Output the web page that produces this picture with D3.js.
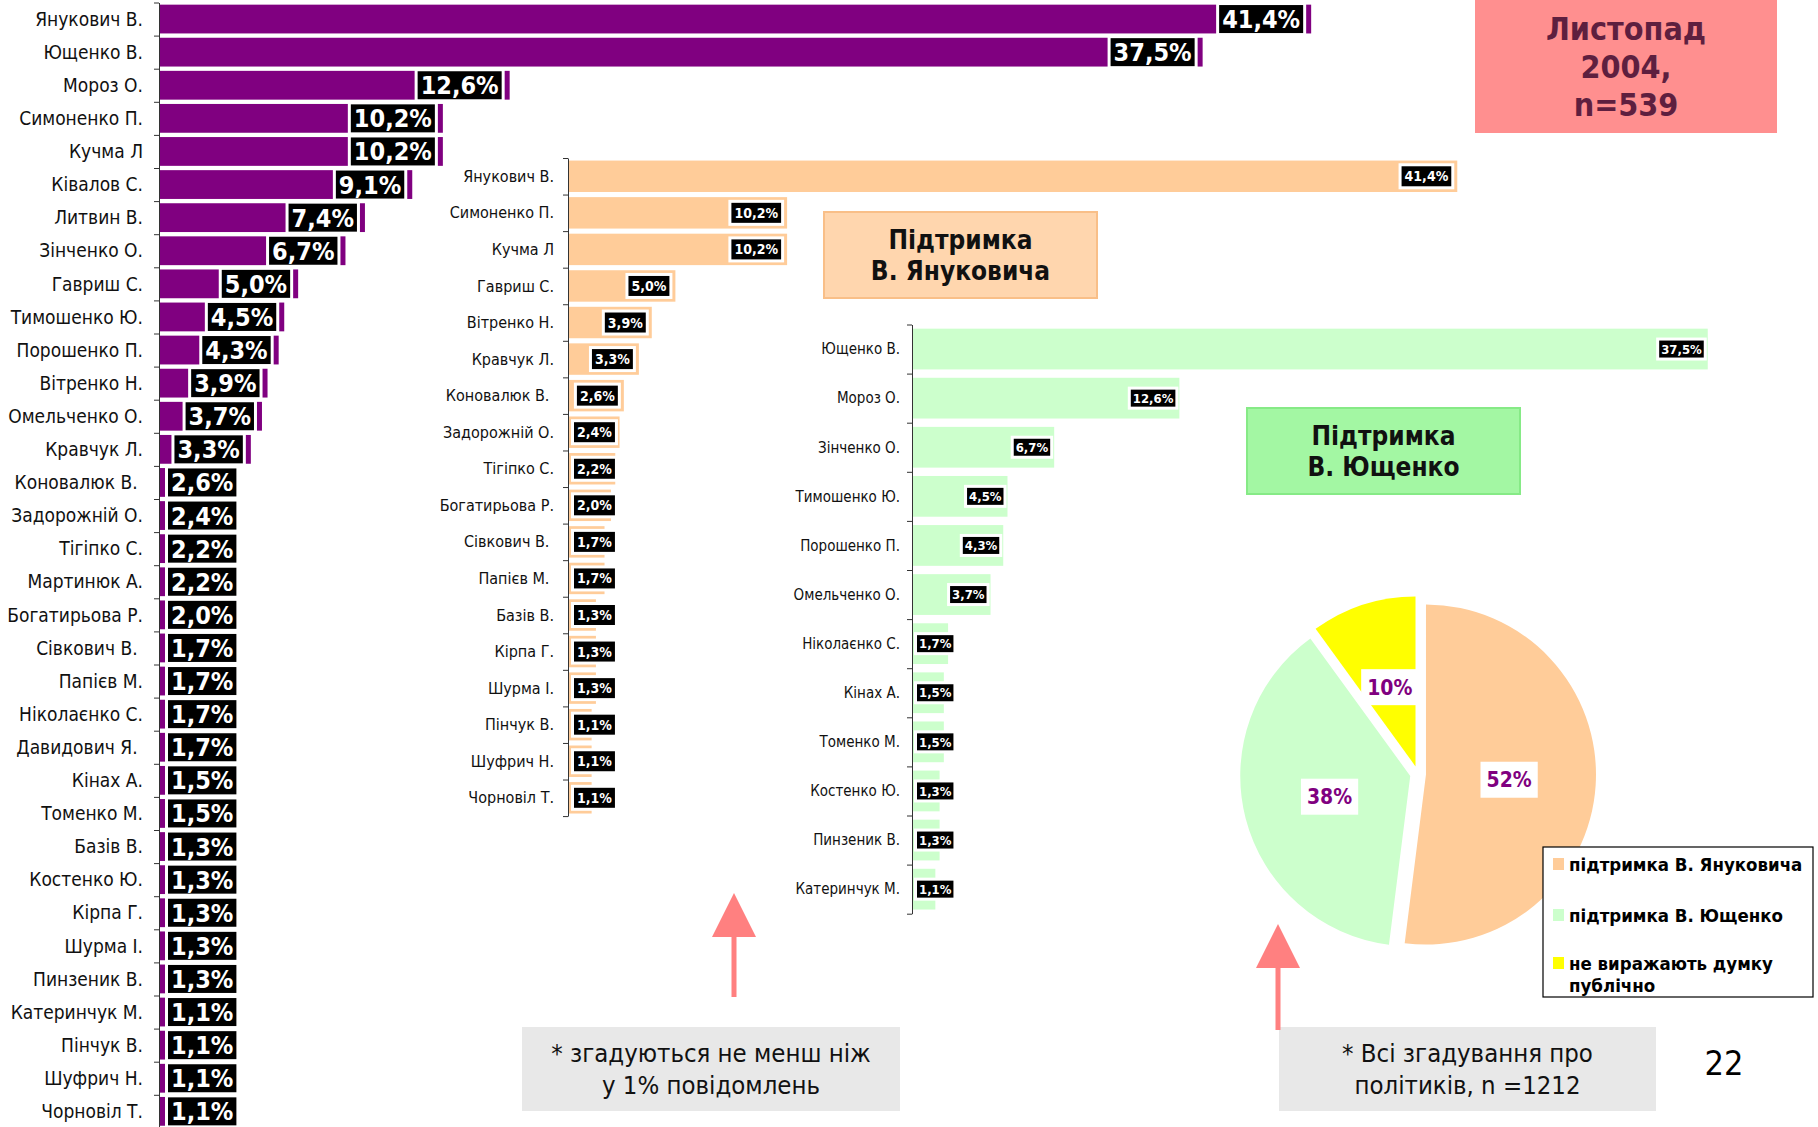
<!DOCTYPE html>
<html>
<head>
<meta charset="utf-8">
<script src="https://cdn.jsdelivr.net/npm/d3@7"></script>
<style>
  body { margin: 0; background: #fff; }
  svg { display: block; font-family: "DejaVu Sans Condensed", "DejaVu Sans", sans-serif; }
</style>
</head>
<body>
<script>
// all mentions of politicians (n=1212)
const allNames = ["Янукович В.", "Ющенко В.", "Мороз О.", "Симоненко П.", "Кучма Л", "Ківалов С.", "Литвин В.",
  "Зінченко О.", "Гавриш С.", "Тимошенко Ю.", "Порошенко П.", "Вітренко Н.", "Омельченко О.", "Кравчук Л.",
  "Коновалюк В. ", "Задорожній О.", "Тігіпко С.", "Мартинюк А.", "Богатирьова Р.", "Сівкович В. ", "Папієв М.",
  "Ніколаєнко С.", "Давидович Я. ", "Кінах А.", "Томенко М.", "Базів В.", "Костенко Ю.", "Кірпа Г.", "Шурма І.",
  "Пинзеник В.", "Катеринчук М.", "Пінчук В.", "Шуфрич Н.", "Чорновіл Т."]
const allValues = [41.4, 37.5, 12.6, 10.2, 10.2, 9.1, 7.4, 6.7, 5.0, 4.5, 4.3, 3.9, 3.7, 3.3, 2.6, 2.4, 2.2, 2.2,
  2.0, 1.7, 1.7, 1.7, 1.7, 1.5, 1.5, 1.3, 1.3, 1.3, 1.3, 1.3, 1.1, 1.1, 1.1, 1.1]

// support of Yanukovych
const yanNames = ["Янукович В.", "Симоненко П.", "Кучма Л", "Гавриш С.", "Вітренко Н.", "Кравчук Л.",
  "Коновалюк В. ", "Задорожній О.", "Тігіпко С.", "Богатирьова Р.", "Сівкович В. ", "Папієв М. ", "Базів В.",
  "Кірпа Г.", "Шурма І.", "Пінчук В.", "Шуфрич Н.", "Чорновіл Т."]
const yanValues = [41.4, 10.2, 10.2, 5.0, 3.9, 3.3, 2.6, 2.4, 2.2, 2.0, 1.7, 1.7, 1.3, 1.3, 1.3, 1.1, 1.1, 1.1]

// support of Yushchenko
const yushNames = ["Ющенко В.", "Мороз О.", "Зінченко О.", "Тимошенко Ю.", "Порошенко П.", "Омельченко О.",
  "Ніколаєнко С.", "Кінах А.", "Томенко М.", "Костенко Ю.", "Пинзеник В.", "Катеринчук М."]
const yushValues = [37.5, 12.6, 6.7, 4.5, 4.3, 3.7, 1.7, 1.5, 1.5, 1.3, 1.3, 1.1]

// pie
const pieLabels = [["підтримка В. Януковича"], ["підтримка В. Ющенко"], ["не виражають думку", "публічно"]]
const pieValues = [52, 38, 10]
const pieColors = ["#ffcc99", "#ccffcc", "#ffff00"]

const width = 1818, height = 1127

const svg = d3.select("body").append("svg")
  .attr("width", width)
  .attr("height", height)

const locale = d3.formatLocale({ decimal: ",", thousands: " ", grouping: [3], currency: ["", ""] })
const fmt = locale.format(".1f")

function barChart(o) {
  const g = svg.append("g")
  const n = o.names.length

  const x = d3.scaleLinear()
    .domain([0, 50])
    .range([o.left, o.left + 50 * o.unit])

  const y = d3.scaleBand()
    .domain(d3.range(n))
    .range([o.top, o.top + n * o.step])
    .paddingInner(o.pad)
    .paddingOuter(o.pad / 2)

  // axis with ticks between categories
  const yTicks = d3.scaleLinear().domain([0, n]).range([o.top, o.top + n * o.step])
  g.append("g")
    .attr("transform", `translate(${o.left},0)`)
    .call(d3.axisLeft(yTicks).tickValues(d3.range(n + 1)).tickSize(5).tickSizeOuter(0).tickFormat(""))
    .call(a => a.selectAll("line,path").attr("stroke", "#333"))

  g.selectAll("rect.bar")
    .data(o.values)
    .join("rect")
    .attr("class", "bar")
    .attr("x", x(0) + 1)
    .attr("y", (d, i) => y(i))
    .attr("width", d => x(d) - x(0) - 1)
    .attr("height", y.bandwidth())
    .attr("fill", o.color)

  g.selectAll("text.cat")
    .data(o.names)
    .join("text")
    .attr("class", "cat")
    .attr("x", o.left - o.catGap)
    .attr("y", (d, i) => y(i) + y.bandwidth() / 2)
    .attr("text-anchor", "end")
    .attr("dy", "0.35em")
    .attr("font-size", o.catSize)
    .style("white-space", "pre")
    .attr("fill", "#111")
    .text(d => d)

  // value labels: black box, white border, white bold text
  const lab = g.selectAll("g.lab")
    .data(o.values)
    .join("g")
    .attr("class", "lab")

  lab.each(function (d, i) {
    const el = d3.select(this)
    const t = el.append("text")
      .attr("font-size", o.valSize)
      .attr("font-weight", "bold")
      .attr("fill", "#fff")
      .attr("dy", "0.36em")
      .text(fmt(d) + "%")
    const w = t.node().getComputedTextLength() + 2 * o.padX
    const right = Math.max(x(d) - o.endGap, o.left + o.minLeft + w)
    const cy = y(i) + y.bandwidth() / 2
    el.insert("rect", "text")
      .attr("x", right - w - o.border)
      .attr("y", cy - o.boxH / 2 - o.border)
      .attr("width", w + 2 * o.border)
      .attr("height", o.boxH + 2 * o.border)
      .attr("fill", "#fff")
    el.insert("rect", "text")
      .attr("x", right - w)
      .attr("y", cy - o.boxH / 2)
      .attr("width", w)
      .attr("height", o.boxH)
      .attr("fill", "#000")
    t.attr("x", right - w + o.padX).attr("y", cy)
  })
}

// left: all politicians
barChart({
  names: allNames, values: allValues, left: 159, unit: 27.83, top: 2.5, step: 33.1, pad: 0.13,
  color: "#800080", catSize: 19, catGap: 16, valSize: 25, padX: 3, boxH: 28, border: 3,
  endGap: 8, minLeft: 9
})

// middle: support of Yanukovych
barChart({
  names: yanNames, values: yanValues, left: 568, unit: 21.48, top: 158, step: 36.56, pad: 0.14,
  color: "#ffcc99", catSize: 16, catGap: 14, valSize: 14, padX: 3, boxH: 20, border: 3,
  endGap: 6, minLeft: 6
})

// right: support of Yushchenko
barChart({
  names: yushNames, values: yushValues, left: 912, unit: 21.22, top: 324.5, step: 49.1, pad: 0.17,
  color: "#ccffcc", catSize: 15, catGap: 12, valSize: 13, padX: 2, boxH: 17, border: 3,
  endGap: 4, minLeft: 5
})

// title boxes
function textBox(x0, y0, w, h, fill, stroke, lines, size, color, lineH) {
  const g = svg.append("g")
  g.append("rect")
    .attr("x", x0).attr("y", y0).attr("width", w).attr("height", h)
    .attr("fill", fill)
    .attr("stroke", stroke || "none")
    .attr("stroke-width", 2)
  g.selectAll("text")
    .data(lines)
    .join("text")
    .attr("x", x0 + w / 2)
    .attr("y", (d, i) => y0 + h / 2 + (i - (lines.length - 1) / 2) * lineH)
    .attr("dy", "0.36em")
    .attr("text-anchor", "middle")
    .attr("font-size", size)
    .attr("font-weight", color.bold ? "bold" : "normal")
    .attr("fill", color.c)
    .text(d => d)
}

textBox(1475, 0, 302, 133, "#ff8f8f", null, ["Листопад", "2004,", "n=539"], 32, { c: "#5e1f3f", bold: true }, 38)
textBox(824, 212, 273, 86, "#ffd6ae", "#f9bf88", ["Підтримка", "В. Януковича"], 26, { c: "#111", bold: true }, 31)
textBox(1247, 408, 273, 86, "#a3f7a3", "#86ea86", ["Підтримка", "В. Ющенко"], 26, { c: "#111", bold: true }, 31)
textBox(522, 1027, 378, 84, "#e8e8e8", null, ["* згадуються не менш ніж", "у 1% повідомлень"], 25.5, { c: "#111" }, 32)
textBox(1279, 1027, 377, 84, "#e8e8e8", null, ["* Всі згадування про", "політиків, n =1212"], 25.5, { c: "#111" }, 32)

// page number
svg.append("text")
  .attr("x", 1724).attr("y", 1063).attr("dy", "0.36em")
  .attr("text-anchor", "middle")
  .attr("font-size", 34)
  .attr("fill", "#000")
  .text("22")

// pie
const R = 170, explode = 8
const pie = d3.pie().sort(null).value(d => d)
const arc = d3.arc().innerRadius(0).outerRadius(R)
const pieG = svg.append("g").attr("transform", "translate(1418,774)")
const arcs = pie(pieValues)

const slice = pieG.selectAll("g.slice")
  .data(arcs)
  .join("g")
  .attr("class", "slice")
  .attr("transform", d => {
    const a = (d.startAngle + d.endAngle) / 2
    return `translate(${Math.sin(a) * explode},${-Math.cos(a) * explode})`
  })

slice.append("path")
  .attr("d", arc)
  .attr("fill", (d, i) => pieColors[i])

slice.each(function (d) {
  const a = (d.startAngle + d.endAngle) / 2
  const r = 0.49 * R
  const el = d3.select(this)
  const t = el.append("text")
    .attr("x", Math.sin(a) * r)
    .attr("y", -Math.cos(a) * r)
    .attr("dy", "0.36em")
    .attr("text-anchor", "middle")
    .attr("font-size", 21)
    .attr("font-weight", "bold")
    .attr("fill", "#800080")
    .text(d.data + "%")
  const w = t.node().getComputedTextLength() + 12
  el.insert("rect", "text")
    .attr("x", Math.sin(a) * r - w / 2)
    .attr("y", -Math.cos(a) * r - 18)
    .attr("width", w)
    .attr("height", 36)
    .attr("fill", "#fff")
})

// legend
const legend = svg.append("g").attr("transform", "translate(1543,847)")
legend.append("rect")
  .attr("width", 270).attr("height", 150)
  .attr("fill", "#fff").attr("stroke", "#000").attr("stroke-width", 1.2)
const legY = [17, 68, 116]
const item = legend.selectAll("g.item")
  .data(pieLabels)
  .join("g")
  .attr("class", "item")
  .attr("transform", (d, i) => `translate(0,${legY[i]})`)
item.append("rect")
  .attr("x", 10).attr("y", -6).attr("width", 11).attr("height", 12)
  .attr("fill", (d, i) => pieColors[i])
item.selectAll("text")
  .data(d => d)
  .join("text")
  .attr("x", 26)
  .attr("y", (d, i) => i * 22)
  .attr("dy", "0.36em")
  .attr("font-size", 18.5)
  .attr("font-weight", "bold")
  .attr("fill", "#000")
  .text(d => d)

// arrows
const arrows = [
  { x: 734, tip: 893, base: 937, bottom: 997 },
  { x: 1278, tip: 924, base: 968, bottom: 1030 }
]
svg.selectAll("path.arrow")
  .data(arrows)
  .join("path")
  .attr("class", "arrow")
  .attr("fill", "#ff8080")
  .attr("d", d => `M${d.x},${d.tip}L${d.x + 22},${d.base}L${d.x + 2.5},${d.base}L${d.x + 2.5},${d.bottom}` +
    `L${d.x - 2.5},${d.bottom}L${d.x - 2.5},${d.base}L${d.x - 22},${d.base}Z`)
</script>
</body>
</html>
